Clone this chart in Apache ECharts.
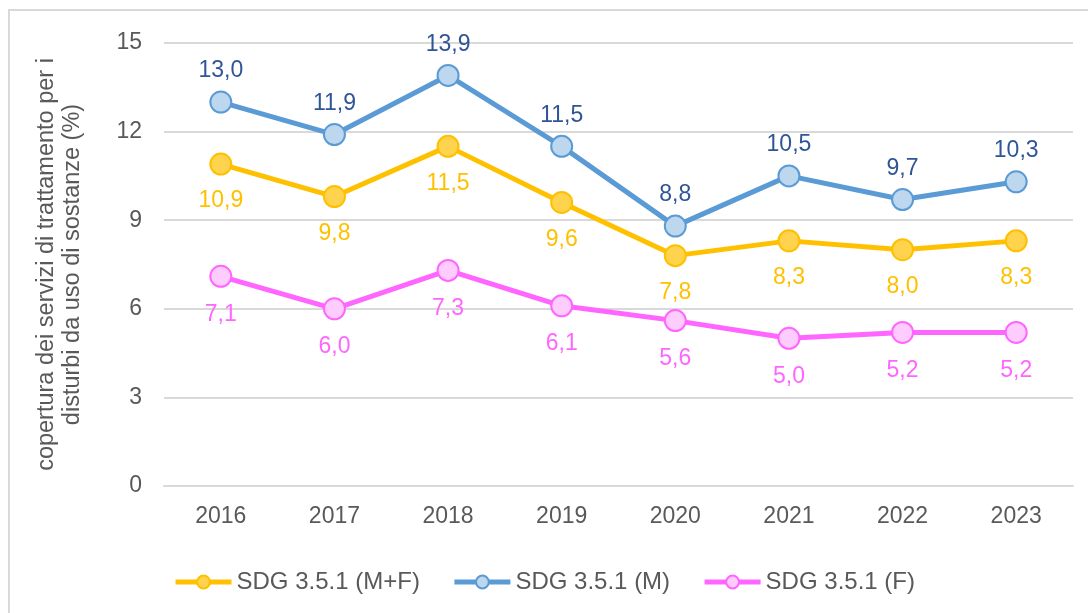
<!DOCTYPE html>
<html>
<head>
<meta charset="utf-8">
<style>
  html, body { margin: 0; padding: 0; background: #fff; }
  #chart { width: 1088px; height: 613px; }
</style>
<script src="https://cdn.jsdelivr.net/npm/echarts@6/dist/echarts.min.js"></script>
</head>
<body>
<div id="chart"></div>
<script>
var anni = ['2016', '2017', '2018', '2019', '2020', '2021', '2022', '2023'];
var totale = [10.9, 9.8, 11.5, 9.6, 7.8, 8.3, 8.0, 8.3];
var maschi = [13.0, 11.9, 13.9, 11.5, 8.8, 10.5, 9.7, 10.3];
var femmine = [7.1, 6.0, 7.3, 6.1, 5.6, 5.0, 5.2, 5.2];

var font = 'Liberation Sans, Arial, sans-serif';
var chart = echarts.init(document.getElementById('chart'));

function virgola(p) {
  return p.value.toFixed(1).replace('.', ',');
}

function serie(nome, dati, linea, riempi, colLabel, pos, dist) {
  return {
    name: nome,
    type: 'line',
    data: dati,
    symbol: 'circle',
    symbolSize: 21,
    lineStyle: { color: linea, width: 5 },
    itemStyle: { color: riempi, borderColor: linea, borderWidth: 2 },
    label: {
      show: true,
      position: pos,
      distance: dist,
      formatter: virgola,
      color: colLabel,
      fontSize: 23,
      fontFamily: font
    }
  };
}

var option = {
  animation: false,
  graphic: [{
    type: 'rect',
    shape: { x: 9, y: 10, width: 1100, height: 620 },
    style: { fill: 'none', stroke: '#d9d9d9', lineWidth: 2 },
    silent: true
  }],
  grid: { left: 164, right: 15, top: 43, bottom: 127 },
  legend: {
    bottom: 14,
    left: 'center',
    itemWidth: 56,
    itemHeight: 16,
    itemGap: 32,
    lineStyle: { width: 5 },
    textStyle: { color: '#595959', fontSize: 24, fontFamily: font },
    data: ['SDG 3.5.1 (M+F)', 'SDG 3.5.1 (M)', 'SDG 3.5.1 (F)']
  },
  xAxis: {
    type: 'category',
    data: anni,
    axisLine: { show: true, lineStyle: { color: '#d9d9d9', width: 2 } },
    axisTick: { show: false },
    axisLabel: { color: '#595959', fontSize: 23, margin: 19, fontFamily: font }
  },
  yAxis: {
    type: 'value',
    min: 0,
    max: 15,
    interval: 3,
    name: 'copertura dei servizi di trattamento per i\ndisturbi da uso di sostanze (%)',
    nameLocation: 'middle',
    nameGap: 78,
    nameTextStyle: { color: '#595959', fontSize: 23.5, lineHeight: 26, fontFamily: font },
    splitLine: { lineStyle: { color: '#d9d9d9', width: 2 } },
    axisLabel: { color: '#595959', fontSize: 23, margin: 22, fontFamily: font }
  },
  series: [
    serie('SDG 3.5.1 (M+F)', totale, '#ffc000', '#ffd34d', '#ffc000', 'bottom', 14),
    serie('SDG 3.5.1 (M)', maschi, '#5b9bd5', '#bdd7ee', '#2f5597', 'top', 8),
    serie('SDG 3.5.1 (F)', femmine, '#ff66ff', '#ffccff', '#ff66ff', 'bottom', 15)
  ]
};

chart.setOption(option);
</script>
</body>
</html>
